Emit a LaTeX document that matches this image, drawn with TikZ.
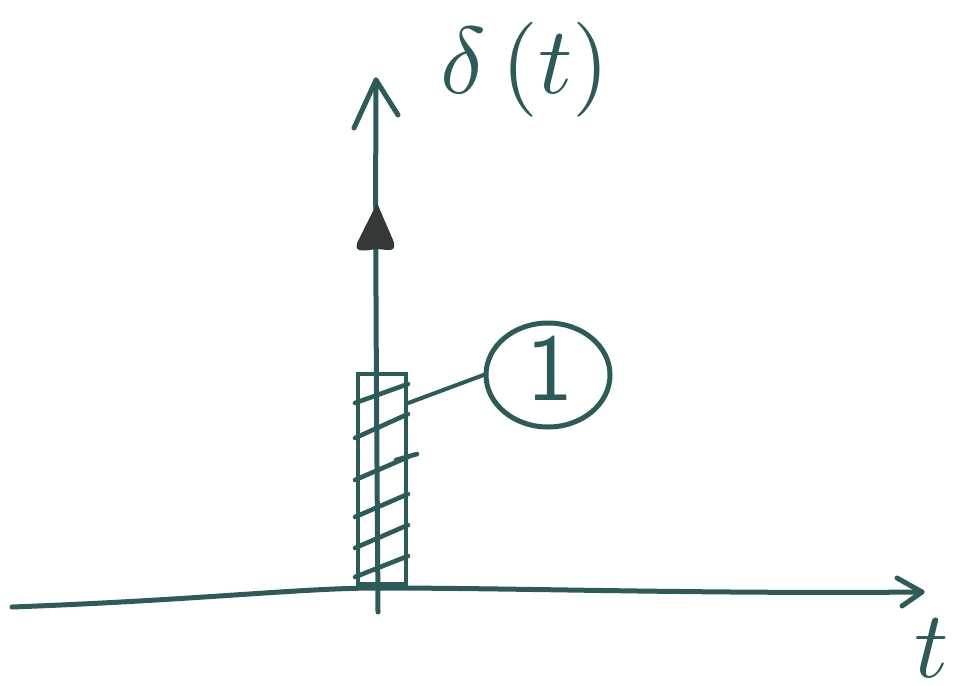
\documentclass[tikz,border=0pt]{standalone}
\usetikzlibrary{arrows.meta,shapes.geometric}
\definecolor{ink}{HTML}{2E5A5A}
\definecolor{dark}{HTML}{333838}
\begin{document}
\begin{tikzpicture}[x=1pt,y=-1pt,
  pen/.style={draw=ink,line width=5pt,line cap=round,line join=round},
  hatch/.style={draw=ink,line width=4.6pt,line cap=round},
  lbl/.style={text=ink,inner sep=0pt}]
\useasboundingbox (0,0) rectangle (960,685);
% coordinates
\coordinate (xs) at (12,607);
\coordinate (xe) at (922,592);
\coordinate (ys) at (378,612);
\coordinate (ye) at (376,80);
% horizontal axis
\draw[pen] (xs) .. controls (200,600) and (300,588) .. (378,588) .. controls (520,588) and (700,594) .. (xe);
\draw[pen] (897,578) -- (xe) -- (902,606);
% vertical axis
\draw[pen] (ys) .. controls (377,450) and (375,250) .. (ye);
\draw[pen] (354,128) -- (ye) -- (398,115);
% filled impulse head
\fill[dark] (377,203) -- (393,240) .. controls (398,253) and (388,250) .. (378,249) .. controls (366,250) and (354,254) .. (357,243) -- cycle;
% hatched rectangle
\node[draw=ink,line width=4.6pt,minimum width=48pt,minimum height=210pt,inner sep=0pt] (box) at (382,479) {};
\foreach \ya/\yb in {403/384, 438/414, 480/457, 517/494, 548/525, 577/556}
  \draw[hatch] (355,\ya) -- (408,\yb);
\draw[hatch] (396,460) -- (417,454);
% circle with 1
\node[draw=ink,line width=5pt,ellipse,minimum width=124pt,minimum height=104pt,inner sep=0pt] (one) at (548,375) {};
\node[lbl,scale=9.5,font=\sffamily] (onetxt) at (550,368) {1};
\draw[pen,line width=4pt] (box.east |- 0,403) coordinate (c1) -- (one.west);
% labels
\node[lbl,scale=9.5] (dlabel) at (525,70) {$\delta\,(t)$};
\node[lbl,scale=9.5] (tlabel) at (932,648) {$t$};
\end{tikzpicture}
\end{document}
